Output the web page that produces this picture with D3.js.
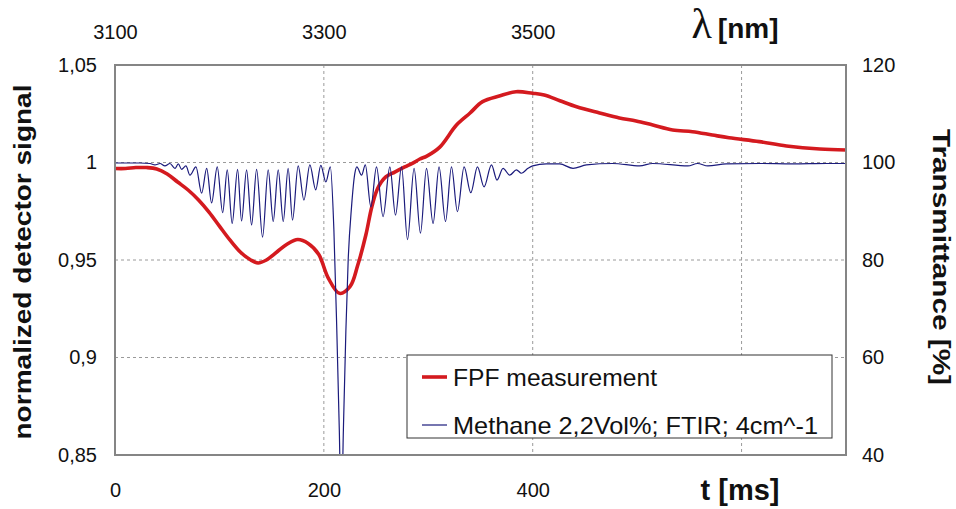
<!DOCTYPE html>
<html>
<head>
<meta charset="utf-8">
<script src="https://cdn.jsdelivr.net/npm/d3@7"></script>
<style>
  html, body { margin: 0; padding: 0; background: #fff; }
  svg { display: block; }
  text { font-family: Arial, "Liberation Sans", sans-serif; fill: #111; }
</style>
</head>
<body>
<svg id="chart" width="956" height="509"></svg>
<script>
// ---- data ----
const timeDomain = [0, 700];              // t [ms]
const wavelengthDomain = [3100, 3800];    // λ [nm]
const signalDomain = [0.85, 1.05];        // normalized detector signal
const transDomain = [40, 120];            // Transmittance [%]

const bottomTicks = [0, 200, 400];
const topTicks = [3100, 3300, 3500];
const leftTicks = [0.85, 0.9, 0.95, 1, 1.05];
const rightTicks = [40, 60, 80, 100, 120];
const vGrid = [200, 400, 600];
const hGrid = [0.9, 0.95, 1];

// FPF measurement: time (ms)
const fpfT = [0, 10, 20, 30, 40, 50, 60, 70, 80, 90, 100, 110, 120, 130, 137, 145, 155, 165, 175, 185,
  195, 204, 215, 225, 232.5, 240.2, 245.9, 251.7, 259.3, 267.9, 277.5, 285.2, 291.9, 298.6, 311, 327,
  340, 352, 368, 384, 400, 411, 426, 442, 464, 483, 499, 515, 534, 553, 572, 588, 617, 643, 675, 700];
// FPF measurement: normalized signal
const fpfV = [0.9969, 0.9969, 0.9974, 0.9974, 0.9967, 0.9941, 0.9900, 0.9859, 0.9808, 0.9746, 0.9674,
  0.9603, 0.9541, 0.9500, 0.9485, 0.9500, 0.9541, 0.9582, 0.9605, 0.9585, 0.9530, 0.9410, 0.9329, 0.9363,
  0.9474, 0.9628, 0.9772, 0.9869, 0.9926, 0.9951, 0.9977, 0.9997, 1.0018, 1.0033, 1.0079, 1.0192,
  1.0254, 1.0312, 1.0341, 1.0363, 1.0355, 1.0346, 1.0317, 1.0286, 1.0254, 1.0228, 1.0213, 1.0192,
  1.0167, 1.0158, 1.0141, 1.0127, 1.0107, 1.0085, 1.0069, 1.0064];

// Methane FTIR: time (ms)
const ch4T = [0, 23.9, 33.5, 38.3, 43.1, 47.8, 52.6, 57.4, 60.6, 63.8, 67.9, 71.8, 77.5, 83.0, 87.8,
  92.5, 97.9, 103.1, 107.5, 112.2, 117.4, 121.2, 126.0, 130.8, 135.6, 141.3, 146.7, 151.5, 156.3,
  161.1, 165.8, 170.0, 175.4, 180.9, 186.6, 192.2, 197.1, 201.9, 206.2, 209.6, 212.4, 214.8, 216.7,
  218.7, 221.1, 223.3, 226.5, 229.7, 231.6, 236.1, 239.7, 245.0, 250.4, 256.7, 263.2, 268.6, 274.4,
  280.1, 286.4, 292.5, 298.3, 304.6, 310.3, 316.5, 322.2, 327.9, 334.3, 340.7, 347.1, 353.4, 360.5,
  365.8, 371.6, 378.0, 384.4, 389.2, 395.5, 400, 413.1, 425.8, 438.6, 451.4, 476.6, 502.4, 514.8,
  548.6, 557.9, 567.7, 585.3, 617.2, 648.8, 681.1, 699.5];
// Methane FTIR: transmittance (%)
const ch4Tr = [99.9, 99.9, 99.8, 99.5, 99.8, 99.3, 99.8, 98.8, 99.7, 98.6, 99.3, 97.4, 99.1, 93.7, 98.8,
  91.7, 99.1, 89.7, 98.5, 87.5, 98.6, 88.0, 98.5, 87.2, 98.6, 84.7, 98.5, 87.9, 98.5,
  87.9, 98.8, 88.2, 99.3, 92.3, 99.5, 94.4, 99.4, 96.0, 99.1, 86.2, 65.6, 45.1, 26.7,
  45.1, 65.6, 80.0, 90.9, 97.8, 99.1, 97.4, 99.5, 90.9, 99.1, 88.9, 99.1, 89.2, 99.1,
  84.2, 98.8, 85.5, 98.8, 87.5, 99.1, 87.9, 99.1, 89.9, 99.1, 93.8, 99.1, 95.0, 99.5,
  96.4, 98.8, 97.4, 98.5, 97.8, 98.8, 99.3, 99.7, 99.7, 98.8, 99.5, 99.8, 99.3, 99.8,
  99.3, 99.8, 99.3, 99.7, 99.8, 99.7, 99.8, 99.8];

const legendLabels = ["FPF measurement", "Methane 2,2Vol%; FTIR; 4cm^-1"];
const seriesColors = ["#d41a1f", "#1b1b7c"];

// ---- layout ----
const L = 115, R = 846, T = 65, B = 455;
const svg = d3.select("#chart");

const x = d3.scaleLinear().domain(timeDomain).range([L, R]);
const xTop = d3.scaleLinear().domain(wavelengthDomain).range([L, R]);
const yL = d3.scaleLinear().domain(signalDomain).range([B, T]);
const yR = d3.scaleLinear().domain(transDomain).range([B, T]);

const comma = d => String(d).replace(".", ",");

// grid
svg.append("g").selectAll("line").data(vGrid).join("line")
  .attr("x1", d => x(d)).attr("x2", d => x(d)).attr("y1", T).attr("y2", B)
  .attr("stroke", "#9a9a9a").attr("stroke-width", 1).attr("stroke-dasharray", "3,3");
svg.append("g").selectAll("line").data(hGrid).join("line")
  .attr("x1", L).attr("x2", R).attr("y1", d => yL(d)).attr("y2", d => yL(d))
  .attr("stroke", "#9a9a9a").attr("stroke-width", 1).attr("stroke-dasharray", "3,3");

// clip
svg.append("clipPath").attr("id", "plotclip").append("rect")
  .attr("x", L).attr("y", T).attr("width", R - L).attr("height", B - T);

const fpf = fpfT.map((t, i) => [t, fpfV[i]]);
const ch4 = ch4T.map((t, i) => [t, ch4Tr[i]]);

svg.append("path").datum(fpf)
  .attr("clip-path", "url(#plotclip)")
  .attr("fill", "none").attr("stroke", seriesColors[0]).attr("stroke-width", 3.6)
  .attr("stroke-linejoin", "round")
  .attr("d", d3.line().x(d => x(d[0])).y(d => yL(d[1])).curve(d3.curveCatmullRom));

svg.append("path").datum(ch4)
  .attr("clip-path", "url(#plotclip)")
  .attr("fill", "none").attr("stroke", seriesColors[1]).attr("stroke-width", 1.2)
  .attr("d", d3.line().x(d => x(d[0])).y(d => yR(d[1])).curve(d3.curveMonotoneX));

// frame
svg.append("rect").attr("x", L).attr("y", T).attr("width", R - L).attr("height", B - T)
  .attr("fill", "none").attr("stroke", "#858585").attr("stroke-width", 2);

// axes
function styleAxis(g) {
  g.select(".domain").remove();
  g.selectAll(".tick line").remove();
  g.selectAll("text").style("font-size", "20px").style("font-family", "Arial, 'Liberation Sans', sans-serif").attr("fill", "#111");
}
svg.append("g").attr("transform", `translate(0,${B})`)
  .call(d3.axisBottom(x).tickValues(bottomTicks).tickSize(0).tickPadding(28).tickFormat(d3.format("d")))
  .call(styleAxis);
svg.append("g").attr("transform", `translate(0,${T})`)
  .call(d3.axisTop(xTop).tickValues(topTicks).tickSize(0).tickPadding(26).tickFormat(d3.format("d")))
  .call(styleAxis);
svg.append("g").attr("transform", `translate(${L},0)`)
  .call(d3.axisLeft(yL).tickValues(leftTicks).tickSize(0).tickPadding(18).tickFormat(comma))
  .call(styleAxis);
svg.append("g").attr("transform", `translate(${R},0)`)
  .call(d3.axisRight(yR).tickValues(rightTicks).tickSize(0).tickPadding(16).tickFormat(d3.format("d")))
  .call(styleAxis);

// axis titles
svg.append("text").attr("transform", `translate(31,${262}) rotate(-90)`)
  .attr("text-anchor", "middle").style("font-size", "24px").style("font-weight", "bold")
  .attr("textLength", 355).attr("lengthAdjust", "spacingAndGlyphs")
  .text("normalized detector signal");
svg.append("text").attr("transform", `translate(933,${257}) rotate(90)`)
  .attr("text-anchor", "middle").style("font-size", "24px").style("font-weight", "bold")
  .attr("textLength", 256).attr("lengthAdjust", "spacingAndGlyphs")
  .text("Transmittance [%]");
svg.append("text").attr("x", 740).attr("y", 500).attr("text-anchor", "middle")
  .style("font-size", "29px").style("font-weight", "bold").text("t [ms]");
const lam = svg.append("text").attr("x", 735).attr("y", 38).attr("text-anchor", "middle");
lam.append("tspan").style("font-size", "42px").style("font-family", "'Times New Roman','Liberation Serif',serif").text("λ");
lam.append("tspan").style("font-size", "28px").style("font-weight", "bold").attr("dx", 6).text("[nm]");

// legend
const lg = svg.append("g");
lg.append("rect").attr("x", 407).attr("y", 355).attr("width", 425).attr("height", 83)
  .attr("fill", "#fff").attr("stroke", "#333").attr("stroke-width", 1);
const legendLengths = [204, 365];
legendLabels.forEach((lab, i) => {
  const yy = 377 + i * 48;
  lg.append("line").attr("x1", 422).attr("x2", 447).attr("y1", yy).attr("y2", yy)
    .attr("stroke", seriesColors[i]).attr("stroke-width", i === 0 ? 3.6 : 1.2);
  lg.append("text").attr("x", 453).attr("y", yy).attr("dy", "0.36em")
    .style("font-size", "24px")
    .attr("textLength", legendLengths[i]).attr("lengthAdjust", "spacingAndGlyphs")
    .text(lab);
});
</script>
</body>
</html>
